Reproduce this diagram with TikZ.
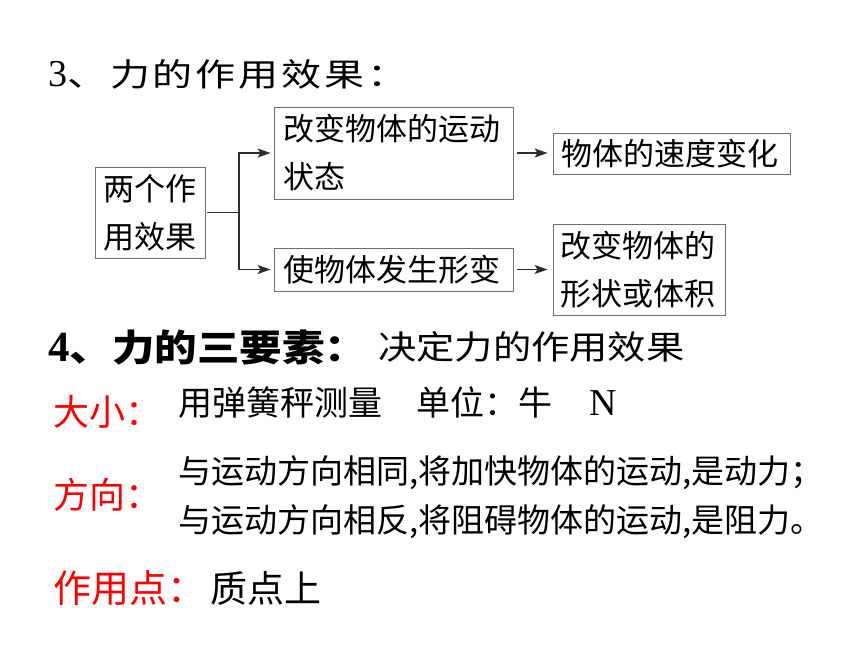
\documentclass[tikz,border=0pt]{standalone}
\usepackage{fontspec}
\setmainfont{Noto Sans CJK SC}
\newfontfamily\latin{Liberation Serif}
\newfontfamily\headfont[FakeStretch=1.25,LetterSpace=9]{Noto Sans CJK SC}
\newfontfamily\headbfont[FakeStretch=1.15]{Noto Sans CJK SC}
\newfontfamily\subheadfont[FakeStretch=1.16]{Noto Sans CJK SC}
\usetikzlibrary{arrows.meta}

\begin{document}
\begin{tikzpicture}[x=1pt,y=1pt,yscale=-1,xscale=1,
  effbox/.style={draw={rgb, 255:red, 110; green, 110; blue, 110 },line width=0.9pt,inner xsep=0pt,inner ysep=0pt,align=left,font=\fontsize{31}{48}\selectfont},
  link/.style={draw={rgb, 255:red, 45; green, 45; blue, 45 },line width=1.2pt},
  tip/.style={-{Stealth[length=13pt,width=9pt,inset=3pt]}},
  plain/.style={anchor=west,inner sep=0pt},
  keyword/.style={anchor=west,inner sep=0pt,text={rgb, 255:red, 255; green, 0; blue, 0 },font=\fontsize{36}{42}\selectfont}
]
\useasboundingbox (0,0) rectangle (860,645);
\fill [white] (0,0) rectangle (860,645);

% Text Node
\node (title3) at (48,74) [plain,font=\headfont\fontsize{32}{38}\selectfont] {{\latin\fontsize{38}{40}\selectfont 3}、力的作用效果：};

%Shape: Rectangle
\node (effects) at (150,212.5) [effbox,text width=93pt,minimum width=110pt,minimum height=91pt] {两个作\\用效果};
%Shape: Rectangle
\node (motion) at (393.5,153) [effbox,text width=220pt,minimum width=239pt,minimum height=92pt] {改变物体的运动\\状态};
%Shape: Rectangle
\node (speed) at (671.5,153.5) [effbox,text width=220pt,minimum width=237pt,minimum height=41pt] {物体的速度变化};
%Shape: Rectangle
\node (deform) at (393.5,269.5) [effbox,text width=220pt,minimum width=239pt,minimum height=43pt] {使物体发生形变};
%Shape: Rectangle
\node (shape) at (639,269.5) [effbox,text width=157pt,minimum width=172pt,minimum height=91pt] {改变物体的\\形状或体积};

%Straight Lines
\coordinate (fork) at (239,212.5);
\draw [link,shorten <=2pt] (effects.east) -- (fork);
\draw [link,tip,shorten >=3pt] (fork) |- (motion.west);
\draw [link,tip,shorten >=3pt] (fork) |- (deform.west);
\draw [link,tip,shorten <=4pt,shorten >=5pt] (motion.east) -- (motion.east -| speed.west);
\draw [link,tip,shorten <=4pt,shorten >=5pt] (deform.east) -- (shape.west);

% Text Node
\node (title4) at (48,348) [plain,font=\headbfont\bfseries\fontsize{37}{44}\selectfont] {{\latin\fontsize{43}{44}\selectfont 4}、力的三要素：};
% Text Node
\node (decides) at (378,347) [plain,font=\subheadfont\fontsize{33}{40}\selectfont] {决定力的作用效果};

% Text Node
\node (size) at (53,412) [keyword] {大小：};
\node (sizetext) at (178,403) [plain,font=\fontsize{34}{40}\selectfont] {用弹簧秤测量\hspace{1em}单位：牛\hspace{1.1em}{\latin\fontsize{38}{40}\selectfont N}};
% Text Node
\node (dir) at (53,495) [keyword] {方向：};
\node (dirtext) at (178,497.5) [plain,align=left,font=\fontsize{33}{49}\selectfont] {与运动方向相同,将加快物体的运动,是动力；\\与运动方向相反,将阻碍物体的运动,是阻力。};
% Text Node
\node (point) at (53,588) [keyword,font=\fontsize{38}{42}\selectfont] {作用点：};
\node (pointtext) at (210,588) [plain,font=\fontsize{37}{42}\selectfont] {质点上};

\end{tikzpicture}
\end{document}
